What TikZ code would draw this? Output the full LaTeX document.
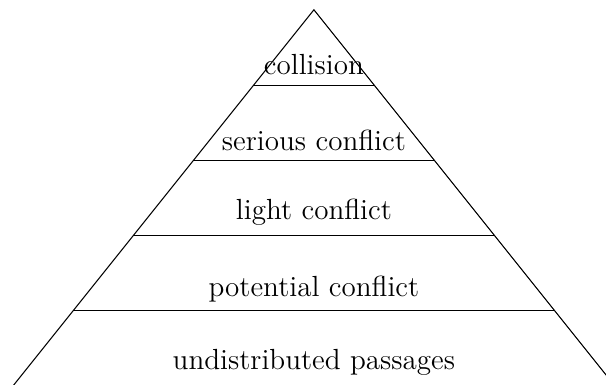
\documentclass[tikz,border=0pt]{standalone}
\usepackage{tikz}
\usetikzlibrary{calc,positioning}

\begin{document}
\begin{tikzpicture}[label/.style={anchor=base,inner sep=0pt,font=\fontsize{11}{13}\selectfont}]
      \useasboundingbox (-4.17,0.02) rectangle (3.88,5.13);
      \coordinate (T) at (0,5);
      \coordinate (L) at (-4,0);
      \coordinate (R) at (4,0);
      \draw (L) -- (T) -- (R);
      \foreach \i in {1,...,4}{
        \coordinate (l\i) at ($(L)!\i/5!(T)$);
        \coordinate (r\i) at ($(R)!\i/5!(T)$);
        \draw (l\i) -- (r\i);
      }
      \node[label] (collision) at (0,4.135) {collision};
      \node[label] (serious) at (0,3.135) {serious conflict};
      \node[label] (light) at (0,2.21) {light conflict};
      \node[label] (potential) at (0,1.19) {potential conflict};
      \node[label] (passages) at (0,0.22) {undistributed passages};
    \end{tikzpicture}
\end{document}
